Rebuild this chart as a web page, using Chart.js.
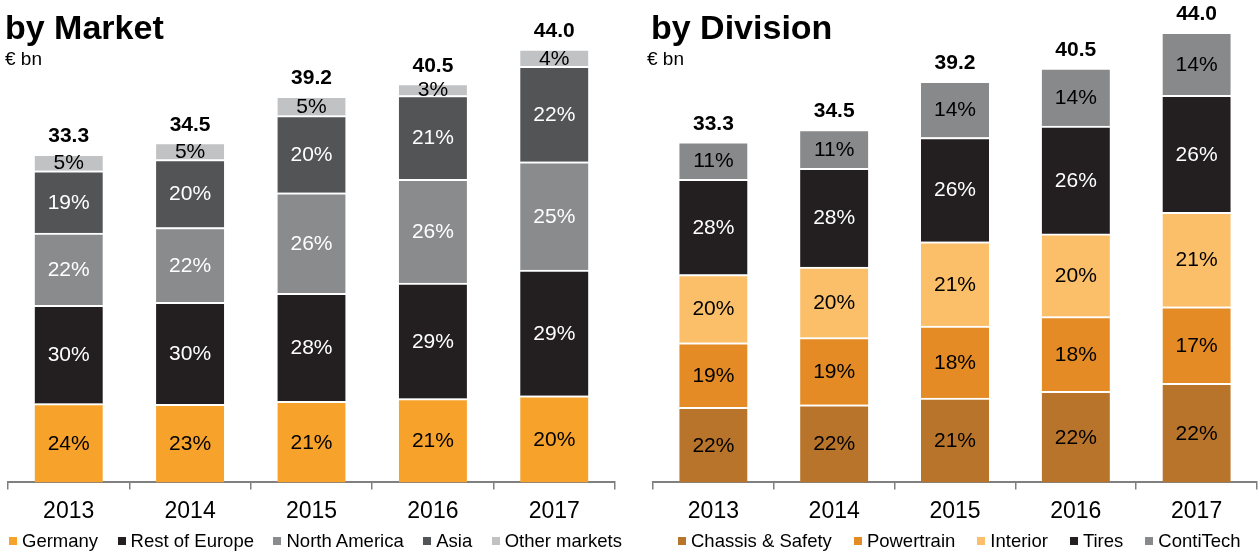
<!DOCTYPE html>
<html>
<head>
<meta charset="utf-8">
<script src="https://cdn.jsdelivr.net/npm/chart.js@4.4.1/dist/chart.umd.min.js"></script>
<style>
    html, body { margin: 0; padding: 0; background: #fff; }
    body { width: 1258px; height: 552px; position: relative; overflow: hidden;
           font-family: 'Liberation Sans', Arial, sans-serif; color: #000; }
    .panel { position: absolute; top: 0; height: 552px; }
    .title { position: absolute; font-size: 34px; font-weight: bold; line-height: normal; white-space: nowrap; }
    .unit { position: absolute; font-size: 19px; line-height: normal; white-space: nowrap; }
    .legend { position: absolute; top: 531px; height: 20px; display: flex; align-items: center;
              gap: 19.5px; font-size: 18.5px; line-height: 20px; white-space: nowrap; }
    .legend span { display: flex; align-items: center; }
    .legend i { display: inline-block; width: 8px; height: 8px; margin-right: 5px; }
</style>
</head>
<body>
<div class="panel" style="left:0; width:625px;"><canvas id="marketChart"></canvas></div>
<div class="panel" style="left:630px; width:628px;"><canvas id="divisionChart"></canvas></div>
<div class="title" style="left:5px; top:8px;">by Market</div>
<div class="unit" style="left:5px; top:48px;">€ bn</div>
<div class="title" style="left:651px; top:8px;">by Division</div>
<div class="unit" style="left:647px; top:48px;">€ bn</div>
<div class="legend" id="marketLegend" style="left:9px;"></div>
<div class="legend" id="divisionLegend" style="left:678px; gap:22px;"></div>

<script>
// Sales data, € bn totals and percentage split per year
const years = ['2013', '2014', '2015', '2016', '2017'];
const salesTotals = [33.3, 34.5, 39.2, 40.5, 44.0];

// by Market (%)
const germany = [24, 23, 21, 21, 20];
const restOfEurope = [30, 30, 28, 29, 29];
const northAmerica = [22, 22, 26, 26, 25];
const asia = [19, 20, 20, 21, 22];
const otherMarkets = [5, 5, 5, 3, 4];

// by Division (%)
const chassisSafety = [22, 22, 21, 22, 22];
const powertrain = [19, 19, 18, 18, 17];
const interior = [20, 20, 21, 20, 21];
const tires = [28, 28, 26, 26, 26];
const contiTech = [11, 11, 14, 14, 14];

const FONT = "'Liberation Sans', Arial, sans-serif";
Chart.defaults.font.family = FONT;
Chart.defaults.color = '#000';

// Turn a percentage split into € bn segments
function toBn(percents) {
    return percents.map((p, i) => salesTotals[i] * p / 100);
}

function makeDataset(label, percents, color, labelColor) {
    return {
        label: label,
        data: toBn(percents),
        percents: percents,
        labelColor: labelColor,
        backgroundColor: color,
        borderColor: '#ffffff',
        borderWidth: { top: 2, right: 0, bottom: 0, left: 0 },
        borderSkipped: 'start',
        barThickness: 68
    };
}

// Percent labels inside segments and the total on top of each bar
const barLabels = {
    id: 'barLabels',
    afterDatasetsDraw(chart) {
        const ctx = chart.ctx;
        ctx.save();
        ctx.textAlign = 'center';
        ctx.textBaseline = 'middle';
        ctx.font = '21px ' + FONT;
        chart.data.datasets.forEach((ds, i) => {
            chart.getDatasetMeta(i).data.forEach((bar, j) => {
                const p = bar.getProps(['x', 'y', 'base'], true);
                ctx.fillStyle = ds.labelColor;
                ctx.fillText(ds.percents[j] + '%', p.x, (p.y + p.base) / 2 + 1);
            });
        });
        const lastMeta = chart.getDatasetMeta(chart.data.datasets.length - 1);
        ctx.font = 'bold 21px ' + FONT;
        ctx.fillStyle = '#000';
        ctx.textBaseline = 'alphabetic';
        lastMeta.data.forEach((bar, j) => {
            const p = bar.getProps(['x', 'y'], true);
            ctx.fillText(salesTotals[j].toFixed(1), p.x, p.y - 12);
        });
        ctx.restore();
    }
};

// Legend built in HTML from the chart's datasets
function buildLegend(chart, id) {
    const box = document.getElementById(id);
    chart.data.datasets.forEach(ds => {
        const item = document.createElement('span');
        const swatch = document.createElement('i');
        swatch.style.background = ds.backgroundColor;
        item.appendChild(swatch);
        item.appendChild(document.createTextNode(ds.label));
        box.appendChild(item);
    });
}

function makeChart(id, datasets, yMax, padding) {
    const ctx = document.getElementById(id).getContext('2d');
    return new Chart(ctx, {
        type: 'bar',
        data: { labels: years, datasets: datasets },
        options: {
            responsive: true,
            maintainAspectRatio: false,
            animation: false,
            layout: { padding: padding },
            plugins: {
                legend: { display: false },
                tooltip: { enabled: false }
            },
            scales: {
                x: {
                    stacked: true,
                    border: { display: true, color: '#808080', width: 2 },
                    grid: {
                        offset: true,
                        drawOnChartArea: false,
                        drawTicks: true,
                        tickLength: 7,
                        color: '#808080',
                        lineWidth: 1.5
                    },
                    ticks: { font: { size: 23 }, color: '#000', padding: 8 }
                },
                y: {
                    stacked: true,
                    display: false,
                    min: 0,
                    max: yMax
                }
            }
        },
        plugins: [barLabels]
    });
}

const marketChart = makeChart('marketChart', [
    makeDataset('Germany', germany, '#F6A22B', '#000'),
    makeDataset('Rest of Europe', restOfEurope, '#231F20', '#fff'),
    makeDataset('North America', northAmerica, '#898B8D', '#fff'),
    makeDataset('Asia', asia, '#525455', '#fff'),
    makeDataset('Other markets', otherMarkets, '#C1C2C3', '#000')
], 46.95, { top: 20, left: 8, right: 10, bottom: 19 });

const divisionChart = makeChart('divisionChart', [
    makeDataset('Chassis & Safety', chassisSafety, '#B8742A', '#000'),
    makeDataset('Powertrain', powertrain, '#E48B26', '#000'),
    makeDataset('Interior', interior, '#FBBF69', '#000'),
    makeDataset('Tires', tires, '#231F20', '#fff'),
    makeDataset('ContiTech', contiTech, '#87898B', '#000')
], 45.2, { top: 20, left: 23, right: 1, bottom: 19 });

buildLegend(marketChart, 'marketLegend');
buildLegend(divisionChart, 'divisionLegend');
</script>
</body>
</html>
